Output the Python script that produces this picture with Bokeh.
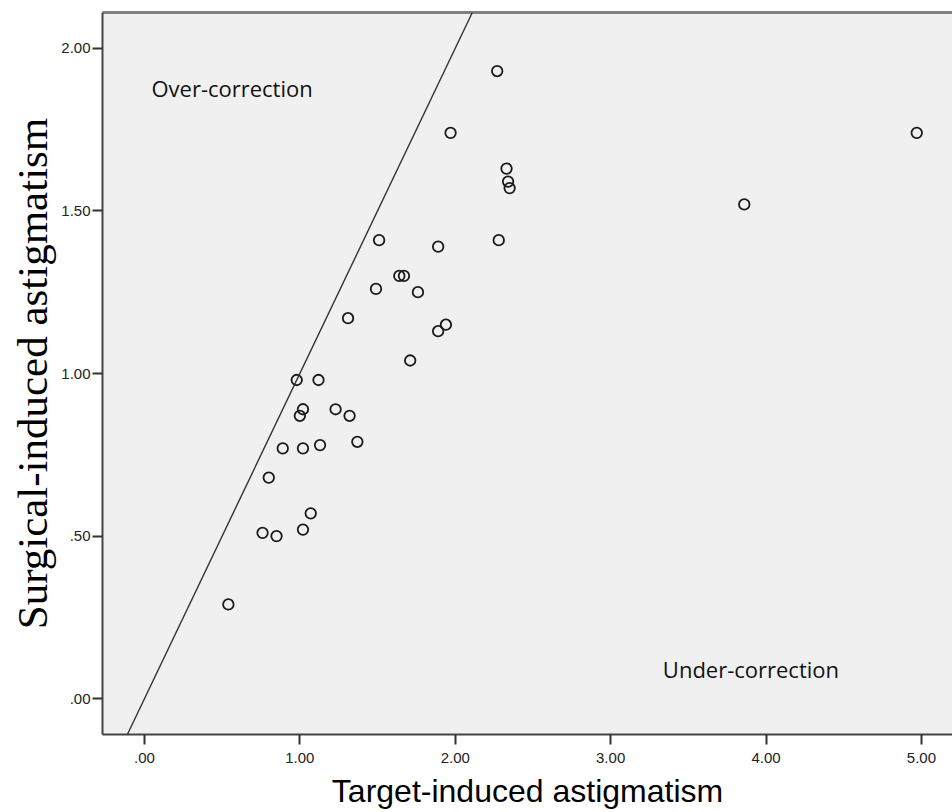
from bokeh.plotting import figure
from bokeh.models import FixedTicker, Slope, Label, LinearAxis, Range1d
from bokeh.embed import file_html
from bokeh.resources import INLINE

# Data
target_induced = [2.27, 1.97, 4.97, 2.33, 2.34, 2.35, 3.86, 1.51, 2.28, 1.89,
                  1.64, 1.67, 1.49, 1.76, 1.31, 1.94, 1.89, 1.71, 0.98, 1.12,
                  1.02, 1.00, 1.23, 1.32, 0.89, 1.02, 1.13, 1.37, 0.80, 1.07,
                  0.76, 0.85, 1.02, 0.54]
surgical_induced = [1.93, 1.74, 1.74, 1.63, 1.59, 1.57, 1.52, 1.41, 1.41, 1.39,
                    1.30, 1.30, 1.26, 1.25, 1.17, 1.15, 1.13, 1.04, 0.98, 0.98,
                    0.89, 0.87, 0.89, 0.87, 0.77, 0.77, 0.78, 0.79, 0.68, 0.57,
                    0.51, 0.50, 0.52, 0.29]

x_ticks = [0, 1, 2, 3, 4, 5]
x_tick_labels = [".00", "1.00", "2.00", "3.00", "4.00", "5.00"]
y_ticks = [0, 0.5, 1, 1.5, 2]
y_tick_labels = [".00", ".50", "1.00", "1.50", "2.00"]

p = figure(width=952, height=812,
           x_range=Range1d(-0.27, 5.20), y_range=Range1d(-0.11, 2.11),
           output_backend="svg", toolbar_location=None,
           min_border_left=102, min_border_right=0, min_border_top=12,
           min_border_bottom=78,
           background_fill_color="#F0F0F0", border_fill_color="white")
p.outline_line_color = None
p.xgrid.grid_line_color = None
p.ygrid.grid_line_color = None

for ax, ticks, labels in ((p.xaxis[0], x_ticks, x_tick_labels),
                          (p.yaxis[0], y_ticks, y_tick_labels)):
    ax.ticker = FixedTicker(ticks=ticks)
    ax.major_label_overrides = dict(zip(ticks, labels))
    ax.minor_tick_line_color = None
    ax.major_tick_in = 0
    ax.major_tick_out = 10
    ax.major_tick_line_color = "#333333"
    ax.major_tick_line_width = 2
    ax.axis_line_color = "#444444"
    ax.axis_line_width = 2
    ax.major_label_text_font = "Liberation Sans"
    ax.major_label_text_font_size = "15px"
    ax.major_label_text_color = "#222222"
    ax.axis_label_text_font_style = "normal"
    ax.axis_label_text_color = "black"

p.xaxis.major_label_standoff = 8
p.xaxis.axis_label = "Target-induced astigmatism"
p.xaxis.axis_label_text_font = "Liberation Sans"
p.xaxis.axis_label_text_font_size = "32px"
p.xaxis.axis_label_standoff = 7

p.yaxis.major_label_standoff = 2
p.yaxis.axis_label = "Surgical-induced astigmatism"
p.yaxis.axis_label_text_font = "Liberation Serif"
p.yaxis.axis_label_text_font_size = "43px"
p.yaxis.axis_label_standoff = 2

# top border line
top = LinearAxis(ticker=FixedTicker(ticks=[]), axis_line_color="#808080",
                 axis_line_width=3, major_tick_line_color=None,
                 minor_tick_line_color=None)
p.add_layout(top, "above")

# identity line (target == surgical)
p.add_layout(Slope(gradient=1, y_intercept=0, line_color="#333333", line_width=1.4))

p.scatter(target_induced, surgical_induced, marker="circle", size=10.5,
          fill_color=None, line_color="#1a1a1a", line_width=1.8)

p.add_layout(Label(x=0.045, y=1.877, text="Over-correction",
                   text_font="Open Sans", text_font_size="22px",
                   text_color="#111111", text_baseline="alphabetic"))
p.add_layout(Label(x=3.336, y=0.092, text="Under-correction",
                   text_font="Open Sans", text_font_size="22px",
                   text_color="#111111", text_baseline="alphabetic"))

open("out.html", "w").write(file_html(p, INLINE))
